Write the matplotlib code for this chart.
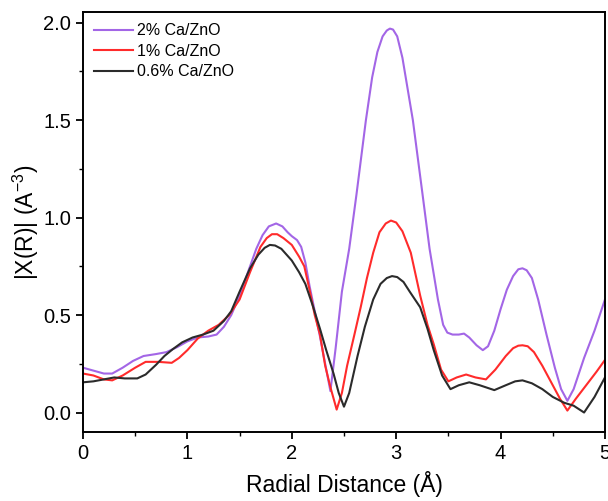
import numpy as np
import matplotlib.pyplot as plt
from matplotlib.ticker import MultipleLocator

plt.rcParams['font.family'] = ['Liberation Sans', 'DejaVu Sans']
plt.rcParams['mathtext.fontset'] = 'custom'
plt.rcParams['mathtext.rm'] = 'Liberation Sans'

labels = ['2% Ca/ZnO', '1% Ca/ZnO', '0.6% Ca/ZnO']
colors = ['#a366e6', '#ff2b2b', '#2b2b2b']

# 2% Ca/ZnO
r_2 = [0.00, 0.10, 0.20, 0.28, 0.38, 0.48, 0.58, 0.70, 0.80, 0.90, 1.00, 1.10,
       1.20, 1.28, 1.35, 1.42, 1.50, 1.58, 1.66, 1.72, 1.78, 1.85, 1.91, 1.96,
       2.00, 2.05, 2.09, 2.13, 2.17, 2.22, 2.27, 2.32, 2.37, 2.42, 2.48, 2.55,
       2.62, 2.71, 2.77, 2.82, 2.87, 2.91, 2.94, 2.97, 3.01, 3.06, 3.11, 3.16,
       3.25, 3.32, 3.40, 3.45, 3.49, 3.54, 3.60, 3.65, 3.70, 3.77, 3.83, 3.88,
       3.94, 4.00, 4.06, 4.12, 4.17, 4.21, 4.25, 4.30, 4.36, 4.44, 4.52, 4.58,
       4.64, 4.70, 4.80, 4.90, 5.00]
chi_2 = [0.23, 0.215, 0.20, 0.20, 0.23, 0.265, 0.29, 0.30, 0.31, 0.335, 0.365, 0.385,
         0.39, 0.40, 0.44, 0.50, 0.60, 0.72, 0.84, 0.91, 0.955, 0.97, 0.955, 0.925,
         0.905, 0.885, 0.85, 0.77, 0.65, 0.52, 0.39, 0.25, 0.11, 0.33, 0.62, 0.84,
         1.12, 1.50, 1.72, 1.85, 1.93, 1.96, 1.97, 1.965, 1.93, 1.82, 1.66, 1.50,
         1.13, 0.84, 0.58, 0.45, 0.41, 0.40, 0.40, 0.405, 0.385, 0.345, 0.32, 0.34,
         0.42, 0.53, 0.63, 0.70, 0.735, 0.74, 0.73, 0.69, 0.58, 0.40, 0.23, 0.12,
         0.06, 0.12, 0.28, 0.42, 0.58]

# 1% Ca/ZnO
r_1 = [0.00, 0.10, 0.20, 0.28, 0.38, 0.50, 0.60, 0.72, 0.85, 0.92, 1.00, 1.10,
       1.20, 1.30, 1.40, 1.50, 1.60, 1.70, 1.76, 1.81, 1.86, 1.92, 2.00, 2.07,
       2.12, 2.17, 2.22, 2.27, 2.32, 2.37, 2.43, 2.48, 2.53, 2.60, 2.66, 2.72,
       2.78, 2.84, 2.90, 2.95, 3.00, 3.06, 3.14, 3.23, 3.30, 3.36, 3.43, 3.50,
       3.58, 3.67, 3.76, 3.86, 3.95, 4.05, 4.12, 4.17, 4.21, 4.26, 4.32, 4.40,
       4.50, 4.57, 4.64, 4.72, 4.82, 4.92, 5.00]
chi_1 = [0.20, 0.19, 0.17, 0.165, 0.19, 0.23, 0.26, 0.26, 0.255, 0.28, 0.32, 0.38,
         0.42, 0.45, 0.50, 0.58, 0.72, 0.85, 0.895, 0.915, 0.915, 0.895, 0.86, 0.80,
         0.75, 0.63, 0.50, 0.40, 0.24, 0.13, 0.015, 0.10, 0.24, 0.40, 0.54, 0.69,
         0.82, 0.925, 0.97, 0.985, 0.975, 0.93, 0.82, 0.60, 0.45, 0.35, 0.22, 0.16,
         0.18, 0.195, 0.18, 0.17, 0.22, 0.29, 0.33, 0.343, 0.345, 0.34, 0.31, 0.24,
         0.14, 0.07, 0.01, 0.07, 0.14, 0.21, 0.27]

# 0.6% Ca/ZnO
r_06 = [0.00, 0.10, 0.20, 0.30, 0.40, 0.52, 0.60, 0.70, 0.78, 0.86, 0.95, 1.05,
        1.15, 1.25, 1.35, 1.42, 1.50, 1.60, 1.68, 1.74, 1.79, 1.84, 1.90, 2.00,
        2.07, 2.13, 2.20, 2.27, 2.33, 2.40, 2.45, 2.50, 2.55, 2.63, 2.70, 2.78,
        2.85, 2.91, 2.96, 3.01, 3.07, 3.13, 3.18, 3.23, 3.30, 3.36, 3.44, 3.52,
        3.60, 3.70, 3.80, 3.94, 4.05, 4.14, 4.21, 4.30, 4.40, 4.50, 4.61, 4.70,
        4.80, 4.90, 5.00]
chi_06 = [0.155, 0.16, 0.17, 0.18, 0.175, 0.175, 0.195, 0.245, 0.29, 0.325, 0.36, 0.385,
          0.40, 0.42, 0.47, 0.52, 0.62, 0.74, 0.81, 0.845, 0.86, 0.857, 0.84, 0.78,
          0.72, 0.66, 0.55, 0.43, 0.32, 0.20, 0.10, 0.03, 0.10, 0.29, 0.44, 0.58,
          0.66, 0.69, 0.70, 0.695, 0.67, 0.62, 0.58, 0.54, 0.43, 0.32, 0.19, 0.12,
          0.14, 0.155, 0.14, 0.115, 0.14, 0.16, 0.165, 0.15, 0.12, 0.08, 0.05, 0.035,
          0.0, 0.08, 0.18]

fig = plt.figure(figsize=(6.08, 5.01), dpi=100)
ax = fig.add_axes([0.1365, 0.1377, 0.8585, 0.8383])

for r, chi, lab, c in zip([r_2, r_1, r_06], [chi_2, chi_1, chi_06], labels, colors):
    ax.plot(r, chi, color=c, lw=1.5, label=lab)

ax.set_xlim(0, 5)
ax.set_ylim(-0.1, 2.055)
ax.xaxis.set_major_locator(MultipleLocator(1))
ax.xaxis.set_minor_locator(MultipleLocator(0.5))
ax.yaxis.set_major_locator(MultipleLocator(0.5))
ax.yaxis.set_minor_locator(MultipleLocator(0.25))
ax.tick_params(which='major', direction='out', length=5, width=1.3, labelsize=14.5)
ax.tick_params(which='minor', direction='out', length=3, width=1.0)
for s in ax.spines.values():
    s.set_linewidth(1.4)

ax.set_xlabel('Radial Distance (Å)', fontsize=16.5, labelpad=6)
ax.set_ylabel('|X(R)| (A$^{\\mathregular{-3}}$)', fontsize=16.5, labelpad=2)

ax.legend(loc='upper left', frameon=False, fontsize=11.5, handlelength=2.4,
          handletextpad=0.3, labelspacing=0.35, borderaxespad=0.3)

fig.savefig('out.png', dpi=100)
